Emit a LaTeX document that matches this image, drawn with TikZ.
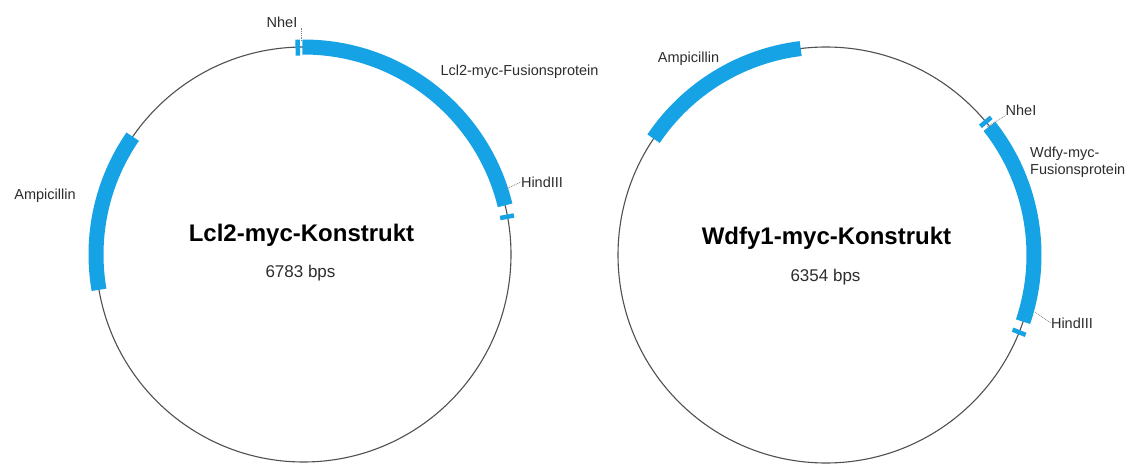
\documentclass[tikz,border=0pt]{standalone}
\usepackage{fontspec}
\setmainfont{Liberation Sans}
\usetikzlibrary{calc}
\definecolor{plasblue}{RGB}{22,163,230}
\definecolor{linegray}{RGB}{80,80,80}
\definecolor{txtgray}{RGB}{45,45,45}
\begin{document}
\begin{tikzpicture}[x=1pt,y=1pt,
 backbone/.style={draw=linegray, line width=1.1pt},
 gene/.style={draw=plasblue, line width=15pt},
 site/.style={draw=plasblue, line width=4.5pt},
 leader/.style={draw=gray, densely dotted, line width=0.8pt},
 lbl/.style={font=\fontsize{14.5}{17}\selectfont, text=txtgray, inner sep=0pt},
 ttl/.style={font=\fontsize{24}{28}\selectfont\bfseries, text=black, inner sep=0pt},
 bps/.style={font=\fontsize{17}{20}\selectfont, text=txtgray, inner sep=0pt}]
\fill[white] (0,0) rectangle (1130,464);
\useasboundingbox (0,0) rectangle (1130,464);
% ---------- left plasmid ----------
\coordinate (cL) at (303.5,209.5);
\draw[backbone] (cL) circle[radius=207.5pt];
\draw[gene] ($(cL)+(13.7:207.5pt)$) arc[start angle=13.7, end angle=90.3, radius=207.5pt];
\draw[gene] ($(cL)+(145.4:207.5pt)$) arc[start angle=145.4, end angle=189.8, radius=207.5pt];
\draw[site] ($(cL)+(91.6:199pt)$) -- ($(cL)+(91.6:215pt)$);
\draw[site] ($(cL)+(10.5:200pt)$) -- ($(cL)+(10.5:214pt)$);
\node[lbl] (nheL) at (282,442) {NheI};
\node[lbl] (fusL) at (519.5,392) {Lcl2-myc-Fusionsprotein};
\node[lbl] (hinL) at (542,282) {HindIII};
\node[lbl] (ampL) at (45,268) {Ampicillin};
\node[ttl] (titL) at (301.5,229) {Lcl2-myc-Konstrukt};
\node[bps] (bpsL) at (300.5,191) {6783 bps};
\coordinate (nheLp) at (301,423);
\coordinate (nheLq) at (301,436);
\coordinate (hinLp) at (506,275);
\draw[leader] (nheLp) -- (nheLq);
\draw[leader] (hinLp) -- (hinL.west);
% ---------- right plasmid ----------
\coordinate (cR) at (826,209);
\draw[backbone] (cR) circle[radius=208pt];
\draw[gene] ($(cR)+(97:208pt)$) arc[start angle=97, end angle=146, radius=208pt];
\draw[gene] ($(cR)+(-18.7:208pt)$) arc[start angle=-18.7, end angle=38.2, radius=208pt];
\draw[site] ($(cR)+(39.8:201pt)$) -- ($(cR)+(39.8:215pt)$);
\draw[site] ($(cR)+(-21.8:201pt)$) -- ($(cR)+(-21.8:215pt)$);
\node[lbl] (ampR) at (688.5,405) {Ampicillin};
\node[lbl] (nheR) at (1021,354) {NheI};
\node[lbl, anchor=west, align=left] (fusR) at (1030,302) {Wdfy-myc-\\Fusionsprotein};
\node[lbl] (hinR) at (1072,141) {HindIII};
\node[ttl] (titR) at (826.5,226) {Wdfy1-myc-Konstrukt};
\node[bps] (bpsR) at (825.5,187) {6354 bps};
\coordinate (nheRp) at (987,337);
\coordinate (hinRp) at (1035,152);
\draw[leader] (nheRp) -- (nheR.south west);
\draw[leader] (hinRp) -- (hinR.west);
\end{tikzpicture}
\end{document}
